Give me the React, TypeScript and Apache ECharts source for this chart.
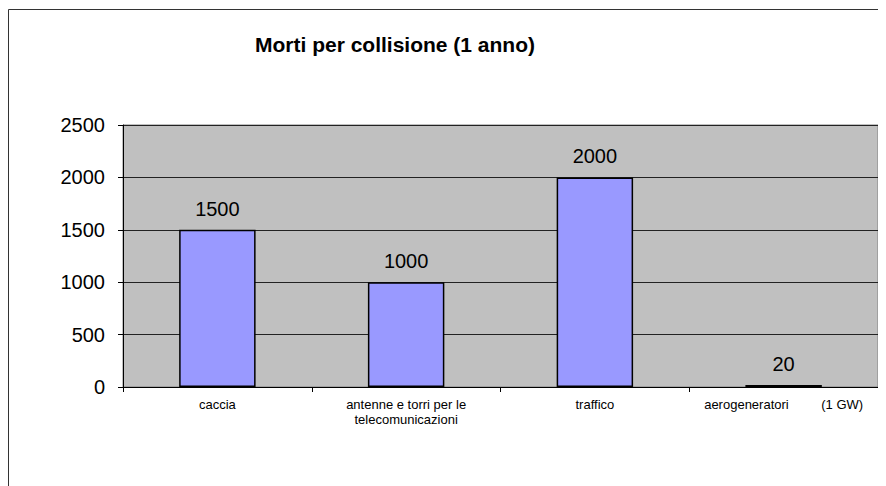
import React, { useEffect, useRef } from "react";
import * as echarts from "echarts";

const categories = [
  "caccia",
  "antenne e torri per le\ntelecomunicazioni",
  "traffico",
  "aerogeneratori         (1 GW)",
];
const values = [1500, 1000, 2000, 20];
const titleText = "Morti per collisione (1 anno)";

export default function App() {
  const ref = useRef<HTMLDivElement>(null);
  useEffect(() => {
    if (!ref.current) return;
    const chart = echarts.init(ref.current, null, { renderer: "svg" });
    const font = "Liberation Sans, Arial, sans-serif";
    chart.setOption({
      animation: false,
      backgroundColor: "#ffffff",
      textStyle: { fontFamily: font },
      title: {
        text: titleText,
        left: 382,
        top: 21,
        textAlign: "center",
        textStyle: { fontSize: 21, fontWeight: "bold", color: "#000", fontFamily: font },
      },
      graphic: [
        {
          type: "rect",
          silent: true,
          shape: { x: 0.5, y: 1.5, width: 2000, height: 2000 },
          style: { fill: "none", stroke: "#333", lineWidth: 1 },
        },
      ],
      grid: {
        left: 115,
        right: 8,
        top: 117,
        bottom: 99,
        show: true,
        backgroundColor: "#C0C0C0",
        borderColor: "#808080",
        borderWidth: 1,
      },
      xAxis: {
        type: "category",
        data: categories,
        axisLine: { show: true, lineStyle: { color: "#000", width: 1 } },
        axisTick: { show: true, length: 5, inside: false, alignWithLabel: false, lineStyle: { color: "#000" } },
        axisLabel: {
          interval: 0,
          fontSize: 13,
          color: "#000",
          margin: 10,
          lineHeight: 15,
          fontFamily: font,
        },
        splitLine: { show: false },
      },
      yAxis: {
        type: "value",
        min: 0,
        max: 2500,
        interval: 500,
        axisLine: { show: true, lineStyle: { color: "#000", width: 1 } },
        axisTick: { show: true, length: 5, lineStyle: { color: "#000" } },
        axisLabel: {
          fontSize: 20,
          color: "#000",
          margin: 18,
          fontFamily: font,
          formatter: (v: number) => String(v),
        },
        splitLine: { show: true, lineStyle: { color: "#222", width: 1 } },
      },
      series: [
        {
          type: "bar",
          data: values,
          barWidth: "40.5%",
          itemStyle: { color: "#9999FF", borderColor: "#000", borderWidth: 1.5 },
          label: {
            show: true,
            position: "top",
            distance: 11,
            fontSize: 20,
            color: "#000",
            fontFamily: font,
          },
        },
      ],
    });
    return () => chart.dispose();
  }, []);
  return <div ref={ref} style={{ width: 878, height: 478 }} />;
}
